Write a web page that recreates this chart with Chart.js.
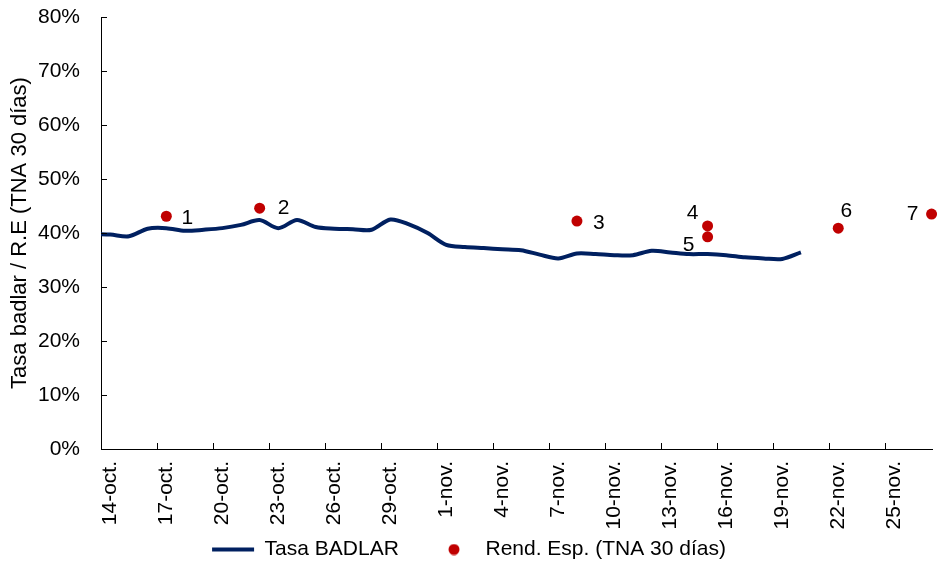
<!DOCTYPE html>
<html>
<head>
<meta charset="utf-8">
<script src="https://cdn.jsdelivr.net/npm/chart.js@4"></script>
<style>
  html, body { margin: 0; padding: 0; background: #fff; }
  #wrap { width: 938px; height: 564px; }
</style>
</head>
<body>
<div id="wrap"><canvas id="chart"></canvas></div>
<script>
// eje x: dias desde el 14-oct (0 = 14-oct)
const tickLabels = ['14-oct.', '17-oct.', '20-oct.', '23-oct.', '26-oct.', '29-oct.', '1-nov.',
  '4-nov.', '7-nov.', '10-nov.', '13-nov.', '16-nov.', '19-nov.', '22-nov.', '25-nov.'];

// Tasa BADLAR, un valor por dia desde el 13-oct hasta el 20-nov
const badlarInicio = -1;
const badlar = [39.8, 39.7, 39.4, 40.8, 40.9, 40.4, 40.6, 40.9, 41.5, 42.4, 40.9,
  42.4, 41.1, 40.8, 40.7, 40.6, 42.5, 41.6, 40.0, 37.8, 37.4,
  37.2, 37.0, 36.8, 36.0, 35.3, 36.2, 36.1, 35.9, 35.9, 36.7,
  36.4, 36.1, 36.1, 35.9, 35.5, 35.3, 35.2, 36.4];

// Rend. Esp. (TNA 30 dias)
const rendDias = [3, 8, 25, 32, 32, 39, 44];
const rendValores = [43.1, 44.6, 42.2, 41.3, 39.3, 40.9, 43.5];
const rendEtiquetas = ['1', '2', '3', '4', '5', '6', '7'];

const FONT = "'Liberation Sans', Arial, sans-serif";
Chart.defaults.font.family = FONT;
Chart.defaults.font.size = 21;
Chart.defaults.color = '#000';

// punto rojo para la leyenda
const dot = document.createElement('canvas');
dot.width = 12; dot.height = 12;
const dctx = dot.getContext('2d');
dctx.fillStyle = '#C00000';
dctx.beginPath();
dctx.arc(6, 6, 5.5, 0, Math.PI * 2);
dctx.fill();

// ticks hacia adentro, como en Excel
const insideTicks = {
  id: 'insideTicks',
  afterDraw(chart) {
    const ctx = chart.ctx;
    const x = chart.scales.x;
    const y = chart.scales.y;
    ctx.save();
    ctx.strokeStyle = '#000';
    ctx.lineWidth = 1;
    ctx.beginPath();
    x.ticks.forEach(t => {
      if (t.value === 0) return;
      const px = Math.round(x.getPixelForValue(t.value - 0.5)) + 0.5;
      ctx.moveTo(px, y.bottom);
      ctx.lineTo(px, y.bottom - 6);
    });
    y.ticks.forEach(t => {
      const py = Math.round(y.getPixelForValue(t.value)) + 0.5;
      ctx.moveTo(x.left, py);
      ctx.lineTo(x.left + 6, py);
    });
    ctx.stroke();
    ctx.restore();
  }
};

// numeros al lado de cada punto
const etiquetaOffset = [[21, 2], [24, 0], [22, 2], [-15, -13], [-19, 8], [8, -17], [-19, 0]];
const pointLabels = {
  id: 'pointLabels',
  afterDatasetsDraw(chart) {
    const ctx = chart.ctx;
    const meta = chart.getDatasetMeta(1);
    ctx.save();
    ctx.font = '21px ' + FONT;
    ctx.fillStyle = '#000';
    ctx.textAlign = 'center';
    ctx.textBaseline = 'middle';
    meta.data.forEach((pt, i) => {
      const off = etiquetaOffset[i];
      ctx.fillText(rendEtiquetas[i], pt.x + off[0], pt.y + off[1]);
    });
    ctx.restore();
  }
};

new Chart(document.getElementById('chart'), {
  type: 'line',
  data: {
    datasets: [{
      label: 'Tasa BADLAR',
      data: badlar.map((v, i) => ({ x: i + badlarInicio, y: v })),
      borderColor: '#002060',
      backgroundColor: '#002060',
      borderWidth: 4,
      pointRadius: 0,
      pointStyle: 'line',
      tension: 0.3,
      fill: false
    }, {
      type: 'scatter',
      label: 'Rend. Esp. (TNA 30 días)',
      data: rendDias.map((d, i) => ({ x: d, y: rendValores[i] })),
      backgroundColor: '#C00000',
      borderColor: '#C00000',
      borderWidth: 0,
      pointRadius: 5.5,
      pointStyle: 'circle',
      clip: false
    }]
  },
  options: {
    responsive: true,
    maintainAspectRatio: false,
    animation: false,
    layout: { padding: { top: 17, right: 0, left: 0, bottom: -6 } },
    plugins: {
      tooltip: { enabled: false },
      legend: {
        position: 'bottom',
        labels: {
          usePointStyle: true,
          pointStyleWidth: 42,
          boxHeight: 8,
          padding: 5,
          color: '#000',
          generateLabels: chart => {
            const items = Chart.defaults.plugins.legend.labels.generateLabels(chart);
            items[0].text += '     ';
            items[1].pointStyle = dot;
            return items;
          }
        }
      }
    },
    scales: {
      x: {
        type: 'linear',
        min: -0.5,
        max: 44.05,
        afterBuildTicks: scale => {
          scale.ticks = tickLabels.map((t, i) => ({ value: i * 3 }));
        },
        afterFit: scale => { scale.height = 85; },
        ticks: {
          autoSkip: false,
          minRotation: 90,
          maxRotation: 90,
          padding: 12,
          callback: (v, i) => tickLabels[i]
        },
        grid: { display: false, drawTicks: false },
        border: { display: true, color: '#000', width: 1 }
      },
      y: {
        min: 0,
        max: 80,
        afterFit: scale => { scale.width = 101; },
        ticks: {
          stepSize: 10,
          padding: 3,
          callback: v => v + '%'
        },
        title: {
          display: true,
          text: 'Tasa badlar / R.E (TNA 30 días)',
          font: { size: 22 },
          padding: { top: 7, bottom: 0 }
        },
        grid: { display: true, drawOnChartArea: false, drawTicks: true, tickLength: 18, tickColor: 'rgba(0,0,0,0)' },
        border: { display: true, color: '#000', width: 1 }
      }
    }
  },
  plugins: [insideTicks, pointLabels]
});
</script>
</body>
</html>
